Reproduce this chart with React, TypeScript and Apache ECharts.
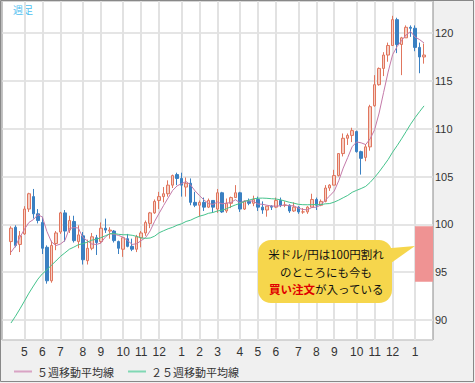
import React, { useEffect, useRef } from 'react';
import * as echarts from 'echarts';

// Weekly categories: Monday of each week, first = 2013-04-01
const START_UTC = Date.UTC(2013, 3, 1);
const WEEK_COUNT = 97;
const FIRST_CANDLE = 2; // first drawn candle is the week of 2013-04-15

const weeks: string[] = [];
for (let i = 0; i < WEEK_COUNT; i++) {
  weeks.push(new Date(START_UTC + i * 7 * 86400000).toISOString().slice(0, 10));
}

// Weekly closes before the first drawn candle (2012-11-02 .. 2013-04-12), used by the moving averages
const priorCloses = [
  80.0, 79.5, 81.3, 82.4, 82.5, 82.4, 83.5, 84.2, 85.4, 88.2, 89.2, 90.0,
  90.9, 92.7, 92.7, 93.5, 93.4, 93.6, 96.0, 95.3, 94.5, 94.2, 97.5, 99.6,
];

// Weekly USD/JPY [open, high, low, close] from 2013-04-15 to 2015-01-19
const ohlc: [number, number, number, number][] = [
  [98.2, 99.8, 96.8, 99.6], [99.7, 99.9, 97.6, 97.8], [97.9, 99.3, 97.1, 98.8],
  [99.0, 101.9, 98.9, 101.6], [101.6, 103.3, 101.3, 103.2], [102.9, 103.7, 100.6, 101.1],
  [101.1, 101.6, 100.1, 100.4], [100.2, 100.8, 96.9, 97.5], [97.6, 97.8, 93.8, 94.1],
  [94.1, 98.3, 93.9, 97.8], [98.0, 99.3, 97.3, 99.1], [99.2, 101.3, 99.0, 101.2],
  [101.2, 101.5, 98.2, 99.3], [99.4, 100.9, 99.1, 100.4], [100.3, 100.9, 98.1, 98.3],
  [98.2, 99.9, 97.5, 98.9], [98.8, 99.2, 95.8, 96.3], [96.2, 98.4, 95.8, 97.5],
  [97.5, 99.1, 97.3, 98.7], [98.6, 98.9, 96.8, 98.1], [98.2, 100.2, 98.0, 99.6],
  [99.6, 100.6, 99.1, 99.4], [99.3, 99.7, 98.5, 99.4], [99.3, 99.4, 98.1, 98.3],
  [98.2, 98.3, 96.9, 97.5], [97.4, 98.6, 96.6, 98.6], [98.5, 99.0, 97.6, 97.7],
  [97.7, 98.5, 97.2, 97.4], [97.4, 98.9, 97.1, 98.7], [98.6, 99.3, 97.6, 99.1],
  [99.1, 100.4, 98.8, 100.2], [100.1, 101.3, 99.6, 101.2], [101.2, 102.6, 101.1, 102.4],
  [102.5, 103.4, 101.6, 102.9], [102.9, 103.9, 102.3, 103.2], [103.2, 104.6, 102.9, 104.1],
  [104.1, 105.2, 103.8, 105.1], [105.2, 105.4, 104.1, 104.8],
  [104.8, 105.4, 102.9, 104.1], [103.9, 104.9, 102.9, 104.3], [104.3, 104.8, 102.0, 102.3],
  [102.3, 103.4, 101.8, 102.0], [102.0, 102.5, 100.8, 102.3], [102.3, 102.8, 101.4, 101.8],
  [101.8, 102.7, 101.7, 102.5], [102.5, 102.5, 101.2, 101.8], [101.6, 103.7, 101.2, 103.3],
  [103.3, 103.4, 101.2, 101.3], [101.4, 102.7, 101.2, 102.2], [102.2, 102.9, 101.7, 102.8],
  [102.8, 104.1, 102.8, 103.3], [103.3, 103.4, 101.3, 101.6], [101.6, 102.5, 101.5, 102.4],
  [102.4, 102.7, 102.0, 102.2], [102.2, 103.0, 101.9, 102.6], [102.6, 102.9, 101.4, 101.8],
  [101.8, 102.4, 101.1, 101.5], [101.5, 101.9, 100.8, 101.9], [101.9, 102.0, 101.5, 101.8],
  [101.8, 102.8, 101.7, 102.5], [102.5, 102.8, 101.8, 102.0], [102.0, 102.4, 101.8, 102.0],
  [102.0, 102.1, 101.2, 101.4], [101.4, 102.3, 101.3, 101.8], [101.8, 101.9, 101.1, 101.3],
  [101.3, 101.7, 101.1, 101.3], [101.3, 101.9, 101.1, 101.8], [101.8, 103.2, 101.8, 102.6],
  [102.6, 102.8, 101.5, 102.0], [102.0, 102.6, 101.9, 102.4], [102.4, 104.1, 102.3, 103.8],
  [103.8, 104.2, 103.5, 104.1], [104.1, 105.7, 104.1, 105.1], [105.1, 107.4, 105.0, 107.4],
  [107.4, 109.5, 107.1, 109.0], [109.0, 109.5, 108.3, 109.3], [109.3, 110.1, 108.6, 109.8],
  [109.7, 109.8, 107.5, 107.6], [107.6, 107.7, 105.2, 106.9], [107.0, 108.4, 106.6, 108.1],
  [108.1, 112.5, 107.7, 112.3], [112.4, 115.6, 112.3, 114.6], [114.6, 116.4, 114.5, 116.3],
  [116.3, 118.0, 115.5, 117.7], [117.7, 119.0, 117.0, 118.7], [118.7, 121.8, 118.7, 121.4],
  [121.4, 121.6, 117.9, 118.8], [118.8, 119.6, 115.6, 119.5], [119.5, 120.8, 119.5, 120.6],
  [120.6, 120.8, 119.6, 120.5],
  [120.5, 120.8, 118.1, 118.5], [118.5, 119.0, 115.8, 117.5], [117.5, 118.9, 116.8, 117.7],
];

const maNames = ['５週移動平均線', '２５週移動平均線'];
const maPeriods = [5, 25];
const buyZone = { startWeek: '2015-01-05', low: 94, high: 99.8 };
const calloutLine1 = '米ドル/円は100円割れ';
const calloutLine2 = 'のところにも今も';
const calloutLine3a = '買い注文';
const calloutLine3b = 'が入っている';
const chartTitle = '週足';

const Y_MIN = 87.91;
const Y_MAX = 123.35;

const allCloses = priorCloses.concat(ohlc.map((r) => r[3]));

function movingAverage(n: number) {
  return weeks.map((_, i) => {
    const k = i - FIRST_CANDLE;
    if (k < 0 || k >= ohlc.length) return '-';
    const end = priorCloses.length + k;
    let s = 0;
    for (let j = end - n + 1; j <= end; j++) s += allCloses[j];
    return +(s / n).toFixed(3);
  });
}

const candleData = weeks.map((_, i) => {
  const r = ohlc[i - FIRST_CANDLE];
  return r ? [r[0], r[3], r[2], r[1]] : '-';
});

const isMonthStart = (idx: number, val: string) =>
  idx > 0 && idx < WEEK_COUNT - 1 && Number(val.slice(8, 10)) <= 7;

const CJK = '"Noto Sans CJK JP", "Noto Sans", sans-serif';
const LATIN = '"Liberation Sans", Arial, sans-serif';

export default function App() {
  const ref = useRef<HTMLDivElement>(null);
  useEffect(() => {
    if (!ref.current) return;
    const chart = echarts.init(ref.current, undefined, { renderer: 'svg' });
    const option: any = {
      animation: false,
      backgroundColor: '#f0f0f0',
      grid: {
        left: 2, top: 1, right: 42, bottom: 43,
        show: true, backgroundColor: '#ffffff', borderColor: '#8a8a8a', borderWidth: 1,
      },
      legend: {
        left: 14, top: 366, padding: 0, itemGap: 14, itemWidth: 18, itemHeight: 2,
        icon: 'rect',
        data: maNames,
        textStyle: { fontFamily: CJK, fontSize: 11, color: '#333' },
      },
      xAxis: {
        type: 'category', data: weeks, boundaryGap: false,
        axisLine: { show: false }, axisTick: { show: false },
        axisLabel: {
          interval: (idx: number, val: string) => isMonthStart(idx, val),
          formatter: (val: string) => String(Number(val.slice(5, 7))),
          margin: 6, fontSize: 12, color: '#333', fontFamily: LATIN,
        },
        splitLine: {
          show: true,
          interval: (idx: number, val: string) => isMonthStart(idx, val),
          lineStyle: { color: '#e2e2e2', width: 2 },
        },
      },
      yAxis: {
        type: 'value', position: 'right', min: Y_MIN, max: Y_MAX, splitNumber: 7, scale: true,
        axisLine: { show: false }, axisTick: { show: false },
        axisLabel: {
          margin: 2, fontSize: 11, color: '#333', fontFamily: LATIN,
          showMinLabel: false, showMaxLabel: false,
          formatter: (v: number) => (Math.abs(v % 5) < 1e-6 ? String(v) : ''),
        },
        splitLine: { show: true, lineStyle: { color: '#dcdcdc', width: 1.5 } },
      },
      series: [
        {
          type: 'candlestick', name: 'USD/JPY', data: candleData, barWidth: 3,
          itemStyle: {
            color: '#f5cfc4', color0: '#3a80c2',
            borderColor: '#e0765e', borderColor0: '#3a80c2', borderWidth: 1,
          },
          markArea: {
            silent: true,
            itemStyle: { color: '#ef9393', opacity: 1 },
            data: [[
              { xAxis: buyZone.startWeek, yAxis: buyZone.high },
              { xAxis: weeks[WEEK_COUNT - 1], yAxis: buyZone.low },
            ]],
          },
          z: 3,
        },
        ...maNames.map((name, k) => ({
          type: 'line', name, data: movingAverage(maPeriods[k]),
          showSymbol: false, symbol: 'none', smooth: false,
          lineStyle: { width: 1, color: k === 0 ? '#c47aa9' : '#45c38c' },
          itemStyle: { color: k === 0 ? '#d9a3c4' : '#80d8b4' },
          z: 4,
        })),
      ],
      graphic: [
        {
          type: 'text', left: 13, top: 4,
          style: { text: chartTitle, fontSize: 10, fill: '#4fc0f0', fontFamily: CJK },
        },
        {
          type: 'polygon', z: 100,
          shape: { points: [[380, 249], [415, 246], [384, 268]] },
          style: { fill: '#f6d64c' },
        },
        {
          type: 'rect', z: 100,
          shape: { x: 258, y: 240, width: 134, height: 63, r: 13 },
          style: { fill: '#f6d64c' },
        },
        {
          type: 'text', z: 101, x: 326, y: 254,
          style: { text: calloutLine1, fontSize: 11.5, fill: '#111', fontFamily: CJK, align: 'center', verticalAlign: 'middle' },
        },
        {
          type: 'text', z: 101, x: 326, y: 272,
          style: { text: calloutLine2, fontSize: 11.5, fill: '#111', fontFamily: CJK, align: 'center', verticalAlign: 'middle' },
        },
        {
          type: 'text', z: 101, x: 269, y: 289,
          style: { text: calloutLine3a, fontSize: 11.5, fontWeight: 'bold', fill: '#e00000', fontFamily: CJK, align: 'left', verticalAlign: 'middle' },
        },
        {
          type: 'text', z: 101, x: 315, y: 289,
          style: { text: calloutLine3b, fontSize: 11.5, fill: '#111', fontFamily: CJK, align: 'left', verticalAlign: 'middle' },
        },
        {
          type: 'rect', z: 200, silent: true,
          shape: { x: 0.5, y: 0.5, width: 473, height: 381 },
          style: { fill: 'none', stroke: '#888', lineWidth: 1 },
        },
      ],
    };
    chart.setOption(option);
    return () => chart.dispose();
  }, []);
  return (
    <div
      ref={ref}
      style={{ position: 'absolute', left: 0, top: 0, width: 475, height: 383 }}
    />
  );
}
